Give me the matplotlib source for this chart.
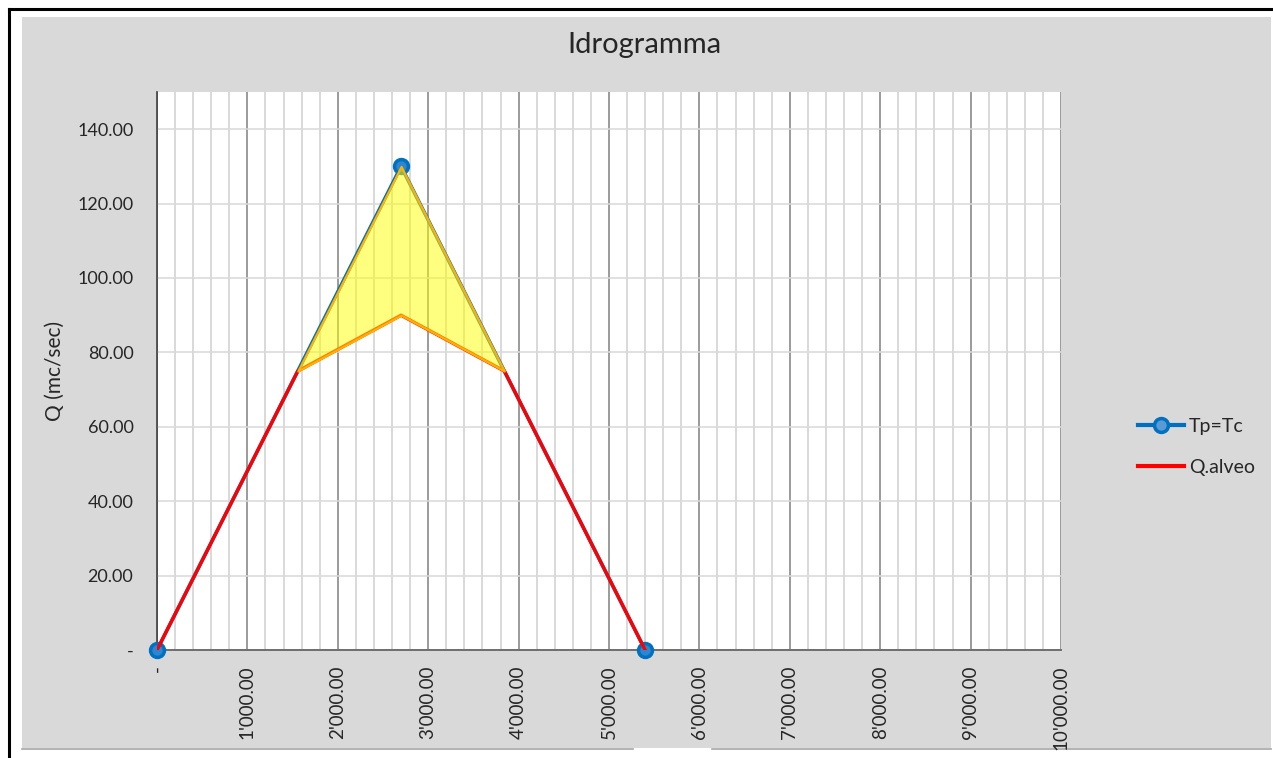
import matplotlib
matplotlib.use("Agg")
import matplotlib.pyplot as plt
import numpy as np
from matplotlib.patches import Rectangle
from matplotlib.lines import Line2D
from matplotlib.ticker import MultipleLocator, FixedLocator

plt.rcParams['font.family'] = ['Lato', 'DejaVu Sans']

# Data
tp_x = [0, 2700, 5400]
tp_y = [0.0, 130.0, 0.0]
alveo_x = [0, 1558, 2700, 3842, 5400]
alveo_y = [0.0, 75.0, 90.0, 75.0, 0.0]
x_ticks = [0, 1000, 2000, 3000, 4000, 5000, 6000, 7000, 8000, 9000, 10000]
y_ticks = [0, 20, 40, 60, 80, 100, 120, 140]
title = "Idrogramma"
ylabel = "Q (mc/sec)"
series_names = ["Tp=Tc", "Q.alveo"]

W, H = 1273, 758
fig = plt.figure(figsize=(W / 100, H / 100), dpi=100)
fig.patch.set_facecolor('white')

def fx(px):
    return px / W

def fy(py):
    return 1 - py / H

# grey chart area
fig.patches.append(Rectangle((fx(22), fy(748)), fx(1271) - fx(22), fy(17) - fy(748),
                             transform=fig.transFigure, facecolor='#D9D9D9', edgecolor='none', zorder=-10))
# bottom grey edge line with white gap
fig.lines.append(Line2D([fx(22), fx(633)], [fy(748.5), fy(748.5)], transform=fig.transFigure, color='#A6A6A6', lw=1.2, zorder=-5))
fig.lines.append(Line2D([fx(712), fx(1271)], [fy(748.5), fy(748.5)], transform=fig.transFigure, color='#A6A6A6', lw=1.2, zorder=-5))
# black outer border (top and left)
fig.lines.append(Line2D([fx(8.5), fx(1273)], [fy(9), fy(9)], transform=fig.transFigure, color='black', lw=2.2, zorder=-5))
fig.lines.append(Line2D([fx(8.5), fx(8.5)], [fy(9), fy(758)], transform=fig.transFigure, color='black', lw=2.2, zorder=-5))

ax = fig.add_axes([fx(157), fy(650), fx(1061) - fx(157), fy(92) - fy(650)])
ax.set_facecolor('white')
ax.set_xlim(0, 10000)
ax.set_ylim(0, 150)

ax.xaxis.set_major_locator(FixedLocator(x_ticks))
ax.xaxis.set_minor_locator(MultipleLocator(200))
ax.yaxis.set_major_locator(FixedLocator(y_ticks))

ax.grid(which='major', axis='x', color='#808080', lw=1.1, zorder=1)
ax.grid(which='minor', axis='x', color='#D0D0D0', lw=1.1, zorder=1)
ax.grid(which='major', axis='y', color='#D9D9D9', lw=1.1, zorder=1)
ax.set_axisbelow(True)

def xfmt(v):
    if v == 0:
        return "-"
    s = f"{v:,.2f}".replace(",", "'")
    return s

def yfmt(v):
    return "-" if v == 0 else f"{v:.2f}"

ax.set_xticklabels([xfmt(v) for v in x_ticks], rotation=90, fontsize=13.5, color='#262626')
ax.set_yticklabels([yfmt(v) for v in y_ticks], fontsize=13, color='#262626')
ax.tick_params(axis='both', which='both', length=0)
ax.tick_params(axis='x', pad=11)
ax.tick_params(axis='y', pad=17)

for s in ['top', 'right']:
    ax.spines[s].set_visible(False)
ax.spines['left'].set_color('#404040')
ax.spines['left'].set_linewidth(1.2)
ax.spines['bottom'].set_color('#6E6E6E')
ax.spines['bottom'].set_linewidth(1.4)

ax.set_ylabel(ylabel, fontsize=15, color='#262626', labelpad=9)

ax.plot(tp_x, tp_y, color='#0070C0', lw=2.6, marker='o', markersize=10,
        markerfacecolor='#2E86D0', markeredgecolor='#0070C0', markeredgewidth=2.5,
        zorder=4, clip_on=False, label=series_names[0])
ax.plot(alveo_x, alveo_y, color='#FF0000', lw=2.4, zorder=5, label=series_names[1])

# fill between the two hydrographs
ax_x = np.array(alveo_x, dtype=float)
tp_on_alveo = np.interp(ax_x, tp_x, tp_y)
red = np.array(alveo_y)
mask = (ax_x >= alveo_x[1]) & (ax_x <= alveo_x[3])
ax.fill_between(ax_x[mask], red[mask], tp_on_alveo[mask], facecolor=(1, 1, 0, 0.5),
                edgecolor='#FFB000', lw=1.6, zorder=6)

fig.text(fx(644), fy(45), title, fontsize=21, ha='center', va='center', color='#262626')

h1 = Line2D([], [], color='#0070C0', lw=3, marker='o', markersize=10,
            markerfacecolor='#5B9BD5', markeredgecolor='#0070C0', markeredgewidth=2.5)
h2 = Line2D([], [], color='#FF0000', lw=3)
leg = fig.legend([h1, h2], series_names, loc='center left',
                 bbox_to_anchor=(fx(1120), fy(447)), frameon=False, fontsize=14,
                 handlelength=2.4, handletextpad=0.25, labelspacing=1.25)
for t in leg.get_texts():
    t.set_color('#262626')

fig.savefig('out.png', dpi=100, facecolor=fig.get_facecolor())
